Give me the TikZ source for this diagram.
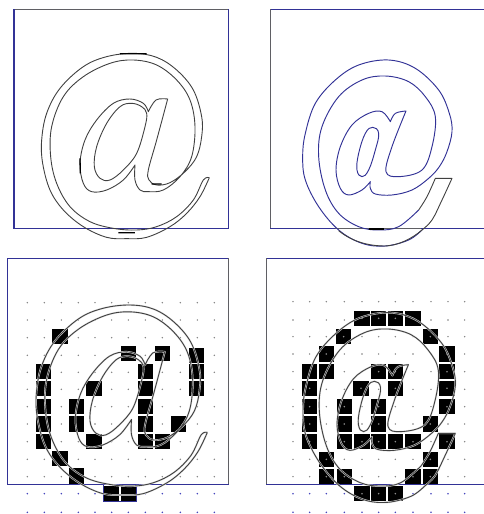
\documentclass[tikz,border=0pt]{standalone}
\definecolor{boxblue}{RGB}{50,50,150}
\definecolor{boxgray}{RGB}{95,95,100}
\definecolor{dotgray}{RGB}{125,125,125}
\definecolor{dotblue}{RGB}{70,70,190}
\tikzset{
  outline/.style={draw=black!75,line width=0.9pt,line join=round},
  halo/.style={draw=white!88!black,line width=1.8pt,line join=round},
  blueline/.style={draw=boxblue,line width=0.95pt,line join=round},
  boxedge/.style={draw=boxblue,line width=1.15pt,line cap=rect},
  grayedge/.style={draw=boxgray,line width=1.15pt,line cap=rect},
  griddot/.style={fill=dotgray},
  griddotb/.style={fill=dotblue},
  cellfill/.style={fill=black},
  heavy/.style={draw=black,line width=1.3pt}
}
\newcommand{\thinpath}{
  plot[smooth,tension=0.6] coordinates {(628,533)(600,590)(560,640)(510,680)(440,712)(380,716)(320,712)(250,680)(190,630)(150,570)(128,490)(125,420)(140,340)(180,265)(250,200)(320,170)(400,160)(470,172)(530,210)(580,270)(605,350)(605,410)(590,470)(555,515)(510,548)(470,555)(447,540)(445,510)(470,420)(503,297)}
  -- plot[smooth,tension=0.6] coordinates {(503,297)(468,300)(445,335)}
  -- plot[smooth,tension=0.6] coordinates {(445,335)(430,310)(390,297)(340,310)(290,360)(255,420)(240,490)(250,550)(275,575)(320,570)(370,540)(405,495)}
  -- plot[smooth,tension=0.6] coordinates {(405,495)(405,540)(420,570)(445,575)(490,570)(540,530)(575,470)(585,380)(570,300)(530,240)(470,195)(400,180)(330,190)(250,230)(190,290)(155,380)(152,470)(170,550)(210,620)(270,665)(340,685)(410,690)(470,680)(530,650)(580,600)(610,540)(628,533)}
  plot[smooth cycle,tension=0.6] coordinates {(395,310)(360,320)(320,370)(290,440)(283,500)(300,535)(330,540)(370,510)(410,460)(435,380)(440,340)(425,320)}
}
\newcommand{\boldring}{
  plot[smooth,tension=0.6] coordinates {(540,690)(500,720)(430,738)(360,730)(290,690)(230,620)(190,540)(182,470)(190,400)(220,310)(280,240)(350,195)(440,180)(520,205)(590,270)(622,340)(630,395)(615,455)(592,500)(560,535)(510,570)(450,585)(400,582)(385,565)(385,545)}
  -- plot[smooth,tension=0.6] coordinates {(385,545)(360,570)(320,585)(295,565)(282,510)(295,440)(330,375)(380,340)(420,335)(445,365)}
  -- plot[smooth,tension=0.6] coordinates {(445,365)(460,340)(492,333)}
  -- plot[smooth,tension=0.6] coordinates {(492,333)(450,440)(432,515)(470,530)(540,510)(570,440)(580,350)(550,290)(500,245)(430,228)(360,240)(290,290)(240,380)(230,470)(250,570)(290,640)(350,680)(410,690)(470,680)(530,630)}
  plot[smooth cycle,tension=0.7] coordinates {(392,382)(410,400)(400,450)(380,510)(360,530)(345,510)(350,460)(370,400)}
}
\newcommand{\boldtail}{
  plot[smooth,tension=0.6] coordinates {(530,630)(555,590)(580,535)} -- (630,535)
  -- plot[smooth,tension=0.6] coordinates {(630,535)(600,600)(570,660)(540,690)}
}
\begin{document}
\begin{tikzpicture}[x=1pt,y=-1pt]
\useasboundingbox (0,0) rectangle (484,514);
%--- panel 1
\begin{scope}[scale=1/3]
  \draw[grayedge] (42,28) -- (685,28);
  \draw[boxedge] (42,28) -- (42,685) -- (685,685) -- (685,28);
  \draw[outline] \thinpath;
  \draw[heavy] (360,161) -- (440,161) (240,475) -- (241,520) (355,698) -- (405,698) (455,552) -- (485,552);
\end{scope}
%--- panel 2
\begin{scope}[shift={(242,0)},scale=1/3]
  \draw[boxedge] (85,28) -- (726,28);
  \draw[grayedge] (85,28) -- (85,685);
  \draw[boxedge] (85,685) -- (726,685);
  \draw[grayedge] (280,685) -- (535,685);
  \draw[blueline] \boldring;
  \draw[outline] \boldtail;
  \draw[outline] (540,690) .. controls (510,716) and (470,736) .. (430,738) .. controls (380,738) and (330,725) .. (290,692);
  \draw[heavy] (380,687) -- (425,687);
\end{scope}
%--- panel 3
\begin{scope}[shift={(0,250)},scale=1/3]
  \foreach \x in {82,133,184,235,285,335,385,436,487,541,592,643}{
    \foreach \y in {158,210,263,316,367,418,470,522,575,628,680}
      \fill[griddot] (\x,\y) circle (2.4);
    \foreach \y in {731,787}
      \fill[griddotb] (\x,\y) circle (2.6);
  }
  \draw[boxedge] (685,25) -- (22,25) -- (22,703);
  \draw[grayedge] (685,25) -- (685,703);
  \draw[boxedge] (22,703) -- (685,703);
  \foreach \x/\y in {180/260,385/311,487/311,590/316,130/365,436/365,590/365,130/415,282/415,436/415,590/415,130/470,230/470,436/470,130/522,230/522,436/522,535/522,130/575,282/575,436/575,487/575,180/625,230/678,335/730,385/730}
    \fill[cellfill] ({\x-23},{\y-23}) rectangle ++(46,46);
  \draw[boxblue,line width=0.7pt] (311,706) -- (311,755) -- (409,755) -- (409,706);
  \begin{scope}[shift={(622,165)},xscale=1.02,yscale=1.025,shift={(-628,-160)}]
    \draw[halo] \thinpath;
    \draw[outline] \thinpath;
  \end{scope}
\end{scope}
%--- panel 4
\begin{scope}[shift={(242,250)},scale=1/3]
  \foreach \x in {153,203,253,307,360,410,460,513,567,618,668}{
    \foreach \y in {155,210,260,312,365,418,470,522,575,628,680}
      \fill[griddot] (\x,\y) circle (2.4);
    \foreach \y in {731,787}
      \fill[griddotb] (\x,\y) circle (2.6);
  }
  \draw[boxedge] (73,25) -- (726,25);
  \draw[grayedge,line width=1.5pt] (73,25) -- (73,703);
  \draw[boxedge] (73,703) -- (726,703);
  \foreach \x/\y in {360/205,410/205,460/205,513/205,305/260,565/260,253/312,615/312,203/365,253/365,410/365,460/365,615/365,203/415,357/415,460/415,615/415,203/470,307/470,410/470,615/470,203/522,307/522,410/522,565/522,203/575,307/575,360/575,410/575,460/575,513/575,615/575,253/628,565/628,253/680,307/680,513/680,565/680,360/731,410/731,460/731}{
    \fill[cellfill] ({\x-23},{\y-23}) rectangle ++(46,46);
    \fill[white!55!black] (\x,\y) circle (2.6);
  }
  \begin{scope}[shift={(640,550)},xscale=1.02,yscale=1.02,shift={(-630,-535)}]
    \draw[halo] \boldring;
    \draw[halo] \boldtail;
    \draw[outline] \boldring;
    \draw[outline] \boldtail;
  \end{scope}
\end{scope}
\end{tikzpicture}
\end{document}
